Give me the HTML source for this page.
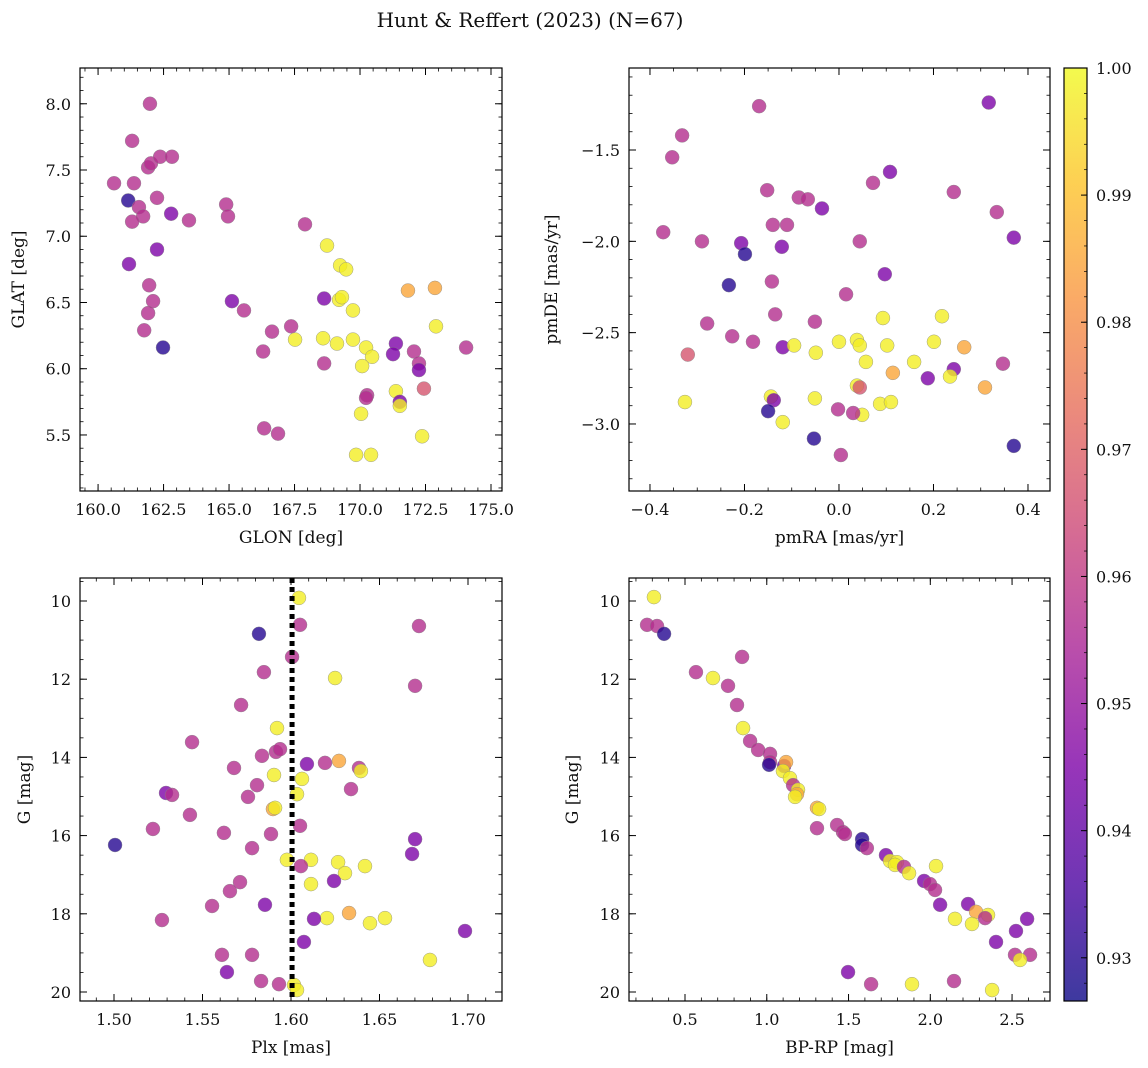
<!DOCTYPE html>
<html><head><meta charset="utf-8">
<style>
html,body{margin:0;padding:0;background:#fff;}
svg{display:block;font-family:"DejaVu Serif","Liberation Serif",serif;}
</style></head>
<body>
<svg id="fig" width="1148" height="1068" viewBox="0 0 1148 1068" xmlns="http://www.w3.org/2000/svg">
<text x="530" y="27" text-anchor="middle" font-size="20" fill="#111">Hunt &amp; Reffert (2023) (N=67)</text>
</svg>
<script>
// ---------- data ----------
const p1Glon=[160.61,161.30,161.98,161.15,161.37,161.56,161.91,162.02,162.37,162.82,162.25,161.72,161.30,162.79,163.47,162.25,161.18,161.95,162.10,161.91,161.76,162.48,164.89,164.96,165.11,165.57,166.64,166.30,166.34,166.87,167.37,167.52,167.90,168.74,169.24,169.47,168.63,169.20,169.31,169.73,168.59,169.12,169.73,168.63,170.23,170.46,170.08,170.27,170.23,170.04,169.85,170.42,171.83,172.86,172.90,171.37,171.26,172.06,172.25,172.25,172.44,171.37,171.52,171.52,172.37,174.05];
const p1Glat=[7.40,7.72,8.00,7.27,7.40,7.22,7.52,7.55,7.60,7.60,7.29,7.15,7.11,7.17,7.12,6.90,6.79,6.63,6.51,6.42,6.29,6.16,7.24,7.15,6.51,6.44,6.28,6.13,5.55,5.51,6.32,6.22,7.09,6.93,6.78,6.75,6.53,6.52,6.54,6.44,6.23,6.19,6.22,6.04,6.16,6.09,6.02,5.80,5.78,5.66,5.35,5.35,6.59,6.61,6.32,6.19,6.11,6.13,6.04,5.99,5.85,5.83,5.75,5.72,5.49,6.16];
const p1Prob=[.957,.957,.957,.930,.957,.957,.957,.957,.957,.957,.957,.957,.957,.945,.957,.945,.945,.957,.957,.957,.957,.930,.957,.957,.945,.957,.957,.957,.957,.957,.957,.998,.957,.998,.998,.998,.945,.998,.998,.998,.998,.998,.998,.957,.998,.998,.998,.957,.957,.998,.998,.998,.985,.985,.998,.945,.945,.957,.957,.945,.967,.998,.945,.998,.998,.957];

const p2PmRA=[-0.169,0.317,-0.332,-0.353,-0.372,-0.290,-0.152,-0.085,-0.066,-0.036,0.108,0.072,0.243,0.334,0.370,-0.207,-0.199,-0.140,-0.110,-0.121,0.044,-0.233,-0.142,0.097,0.015,-0.135,-0.279,-0.226,-0.182,-0.119,-0.095,-0.051,-0.049,0.000,0.038,0.044,0.093,0.102,0.218,0.201,0.159,0.057,0.265,0.347,0.188,0.243,0.235,0.114,0.309,-0.320,-0.326,-0.144,-0.138,-0.150,-0.119,-0.051,0.038,0.044,0.049,0.030,-0.002,0.087,0.110,-0.053,0.004,0.370];
const p2PmDE=[-1.26,-1.24,-1.42,-1.54,-1.95,-2.00,-1.72,-1.76,-1.77,-1.82,-1.62,-1.68,-1.73,-1.84,-1.98,-2.01,-2.07,-1.91,-1.91,-2.03,-2.00,-2.24,-2.22,-2.18,-2.29,-2.40,-2.45,-2.52,-2.55,-2.58,-2.57,-2.44,-2.61,-2.55,-2.54,-2.57,-2.42,-2.57,-2.41,-2.55,-2.66,-2.66,-2.58,-2.67,-2.75,-2.70,-2.74,-2.72,-2.80,-2.62,-2.88,-2.85,-2.87,-2.93,-2.99,-2.86,-2.79,-2.80,-2.95,-2.94,-2.92,-2.89,-2.88,-3.08,-3.17,-3.12];
const p2Prob=[.957,.945,.957,.957,.957,.957,.957,.957,.957,.945,.945,.957,.957,.957,.945,.945,.930,.957,.957,.945,.957,.930,.957,.945,.957,.957,.957,.957,.957,.945,.998,.957,.998,.998,.998,.998,.998,.998,.998,.998,.998,.998,.985,.957,.945,.945,.998,.985,.985,.967,.998,.998,.945,.930,.998,.998,.998,.967,.998,.957,.957,.998,.998,.930,.957,.930];

const p3Plx=[1.6045,1.6051,1.6723,1.5819,1.6006,1.5847,1.6249,1.6701,1.5718,1.5921,1.5441,1.5836,1.5915,1.5938,1.5678,1.6090,1.6192,1.6271,1.6384,1.6395,1.5904,1.6062,1.5294,1.5328,1.5808,1.5757,1.6034,1.6339,1.5429,1.5898,1.5910,1.6051,1.5220,1.5621,1.5887,1.6701,1.5006,1.5780,1.6684,1.5977,1.6113,1.6266,1.6056,1.6418,1.6305,1.6243,1.6113,1.5712,1.5655,1.5554,1.5853,1.6328,1.6531,1.6203,1.6130,1.5271,1.6446,1.6983,1.6073,1.5610,1.5780,1.6785,1.5638,1.5831,1.5932,1.6017,1.6034];
const p3G=[9.92,10.61,10.64,10.84,11.43,11.82,11.97,12.17,12.66,13.25,13.61,13.96,13.86,13.79,14.27,14.17,14.14,14.09,14.27,14.35,14.45,14.55,14.91,14.96,14.71,15.01,14.94,14.81,15.47,15.32,15.29,15.75,15.83,15.93,15.96,16.09,16.24,16.32,16.47,16.62,16.62,16.68,16.78,16.78,16.96,17.16,17.24,17.19,17.42,17.80,17.77,17.98,18.11,18.11,18.13,18.16,18.24,18.44,18.72,19.05,19.05,19.18,19.49,19.72,19.80,19.82,19.95];
const p3Prob=[.998,.957,.957,.930,.957,.957,.998,.957,.957,.998,.957,.957,.957,.957,.957,.945,.957,.985,.957,.998,.998,.998,.945,.957,.957,.957,.998,.957,.957,.985,.998,.957,.957,.957,.957,.945,.930,.957,.945,.998,.998,.998,.957,.998,.998,.945,.998,.957,.957,.957,.945,.985,.998,.998,.945,.957,.998,.945,.945,.957,.957,.998,.945,.957,.957,.998,.998];
const p3ParallaxLine=1.6006;

const p4BpRp=[0.310,0.268,0.329,0.372,0.567,0.849,0.671,0.763,0.818,0.855,0.898,0.947,1.020,1.020,1.014,1.106,1.118,1.099,1.142,1.161,1.191,1.185,1.173,1.307,1.320,1.430,1.466,1.478,1.307,1.583,1.583,1.612,1.729,1.754,1.796,1.784,1.839,1.870,1.962,1.998,2.029,2.035,2.060,2.231,2.280,2.353,2.335,2.151,2.255,2.592,2.524,2.402,2.518,2.610,2.549,1.497,1.638,1.888,2.145,2.378];
const p4G=[9.90,10.61,10.64,10.84,11.82,11.43,11.97,12.17,12.66,13.25,13.58,13.81,13.91,14.12,14.19,14.22,14.12,14.35,14.53,14.71,14.83,14.94,15.01,15.29,15.32,15.73,15.91,15.96,15.81,16.09,16.24,16.32,16.50,16.65,16.68,16.75,16.80,16.96,17.16,17.24,17.39,16.78,17.77,17.75,17.95,18.03,18.11,18.13,18.26,18.13,18.44,18.72,19.05,19.05,19.18,19.49,19.80,19.80,19.72,19.95];
const p4Prob=[.998,.957,.957,.930,.957,.957,.998,.957,.957,.998,.957,.957,.957,.957,.930,.945,.985,.998,.998,.957,.998,.985,.998,.985,.998,.957,.957,.957,.957,.930,.930,.957,.945,.998,.998,.998,.957,.998,.945,.957,.957,.998,.945,.945,.985,.998,.957,.998,.998,.945,.945,.945,.957,.957,.998,.945,.957,.998,.957,.998];

const cbTicks=[0.93,0.94,0.95,0.96,0.97,0.98,0.99,1.00];
const cbMin=0.9266, cbMax=1.0;

// ---------- helpers ----------
const NS="http://www.w3.org/2000/svg";
const svg=document.getElementById('fig');
function mk(tag,attrs,parent){const e=document.createElementNS(NS,tag);for(const k in attrs)e.setAttribute(k,attrs[k]);(parent||svg).appendChild(e);return e;}
const plasmaStops=[[0,[13,8,135]],[0.125,[75,3,161]],[0.25,[125,3,168]],[0.375,[168,34,150]],[0.5,[203,70,121]],[0.625,[229,107,93]],[0.75,[248,148,65]],[0.875,[253,195,40]],[1,[240,249,33]]];
function plasma(t){t=Math.max(0,Math.min(1,t));for(let i=1;i<plasmaStops.length;i++){if(t<=plasmaStops[i][0]){const a=plasmaStops[i-1],b=plasmaStops[i];const f=(t-a[0])/(b[0]-a[0]);const c=a[1].map((v,j)=>Math.round(v+(b[1][j]-v)*f));return `rgb(${c[0]},${c[1]},${c[2]})`;}}return 'rgb(240,249,33)';}
function colorOf(p){return plasma((p-cbMin)/(cbMax-cbMin));}
function fmt(v,d){return (v<0?'\u2212':'')+Math.abs(v).toFixed(d);}

function panel(o){
  const g=mk('g',{});
  
  
  const L=o.box[0],T=o.box[1],R=o.box[2],B=o.box[3];
  const sx=v=>L+(v-o.xr[0])/(o.xr[1]-o.xr[0])*(R-L);
  const sy=o.yinv?(v=>T+(v-o.yr[0])/(o.yr[1]-o.yr[0])*(B-T)):(v=>B-(v-o.yr[0])/(o.yr[1]-o.yr[0])*(B-T));
  const pg=mk('g',{},g);
  
  
  for(let i=0;i<o.xs.length;i++){
    const c=mk('circle',{cx:sx(o.xs[i]),cy:sy(o.ys[i]),r:7,fill:colorOf(o.cs[i]),'fill-opacity':0.8,stroke:'#888','stroke-opacity':0.8,'stroke-width':0.5},pg);
    
    
  }
  if(o.vline!==undefined){
    const ln=mk('line',{x1:sx(o.vline),x2:sx(o.vline),y1:T,y2:B,stroke:'#000','stroke-width':5,'stroke-dasharray':'5,4'},g);
    
    
  }
  const fr=mk('rect',{x:L,y:T,width:R-L,height:B-T,fill:'none',stroke:'#000','stroke-width':1.2},g);
  
  
  const xm=o.xt[2]/o.xmin;
  for(let v=o.xt[0];v<=o.xt[1]+1e-9;v+=o.xt[2]){
    const x=sx(v);
    mk('line',{x1:x,x2:x,y1:B,y2:B-7,stroke:'#000','stroke-width':1},g);
    mk('line',{x1:x,x2:x,y1:T,y2:T+7,stroke:'#000','stroke-width':1},g);
    const t=mk('text',{x:x,y:B+24,'text-anchor':'middle','font-size':16,fill:'#111'},g);
    t.textContent=fmt(v,o.xd);
    
    
  }
  for(let v=o.xt[0]-Math.ceil((o.xt[0]-o.xr[0])/xm)*xm;v<=o.xr[1];v+=xm){
    if(v<o.xr[0])continue;const x=sx(v);
    mk('line',{x1:x,x2:x,y1:B,y2:B-3.5,stroke:'#000','stroke-width':0.8},g);
    mk('line',{x1:x,x2:x,y1:T,y2:T+3.5,stroke:'#000','stroke-width':0.8},g);
  }
  const ym=o.yt[2]/o.ymin;
  for(let v=o.yt[0];v<=o.yt[1]+1e-9;v+=o.yt[2]){
    const y=sy(v);
    mk('line',{x1:L,x2:L+7,y1:y,y2:y,stroke:'#000','stroke-width':1},g);
    mk('line',{x1:R,x2:R-7,y1:y,y2:y,stroke:'#000','stroke-width':1},g);
    const t=mk('text',{x:L-9,y:y+6,'text-anchor':'end','font-size':16,fill:'#111'},g);
    t.textContent=fmt(v,o.yd);
    
    
  }
  const y0=Math.min(o.yr[0],o.yr[1]),y1=Math.max(o.yr[0],o.yr[1]);
  for(let v=o.yt[0]-Math.ceil((o.yt[0]-y0)/ym)*ym;v<=y1;v+=ym){
    if(v<y0)continue;const y=sy(v);
    mk('line',{x1:L,x2:L+3.5,y1:y,y2:y,stroke:'#000','stroke-width':0.8},g);
    mk('line',{x1:R,x2:R-3.5,y1:y,y2:y,stroke:'#000','stroke-width':0.8},g);
  }
  const xl=mk('text',{x:(L+R)/2,y:B+52,'text-anchor':'middle','font-size':17,fill:'#111'},g);
  xl.textContent=o.xlabel;
  
  
  const yl=mk('text',{x:0,y:0,'text-anchor':'middle','font-size':17,fill:'#111',transform:`translate(${o.ylx},${(T+B)/2}) rotate(-90)`},g);
  yl.textContent=o.ylabel;
  
  
}

panel({name:'glon-glat-panel',box:[80,68,502,491],xr:[159.31,175.42],yr:[5.077,8.27],xs:p1Glon,ys:p1Glat,cs:p1Prob,xt:[160,175,2.5],xmin:5,xd:1,yt:[5.5,8.0,0.5],ymin:5,yd:1,xlabel:'GLON [deg]',ylabel:'GLAT [deg]',ylx:24});
panel({name:'proper-motion-panel',box:[629,68,1050,491],xr:[-0.4444,0.4466],yr:[-3.367,-1.051],xs:p2PmRA,ys:p2PmDE,cs:p2Prob,xt:[-0.4,0.4,0.2],xmin:4,xd:1,yt:[-3.0,-1.5,0.5],ymin:5,yd:1,xlabel:'pmRA [mas/yr]',ylabel:'pmDE [mas/yr]',ylx:557});
panel({name:'parallax-mag-panel',box:[80,578,502,1001],xr:[1.4808,1.7192],yr:[9.412,20.23],yinv:true,xs:p3Plx,ys:p3G,cs:p3Prob,vline:p3ParallaxLine,xt:[1.50,1.70,0.05],xmin:5,xd:2,yt:[10,20,2],ymin:4,yd:0,xlabel:'Plx [mas]',ylabel:'G [mag]',ylx:30});
panel({name:'cmd-panel',box:[629,578,1050,1001],xr:[0.1575,2.732],yr:[9.412,20.23],yinv:true,xs:p4BpRp,ys:p4G,cs:p4Prob,xt:[0.5,2.5,0.5],xmin:5,xd:1,yt:[10,20,2],ymin:4,yd:0,xlabel:'BP-RP [mag]',ylabel:'G [mag]',ylx:578});

// colorbar
const cb=mk('g',{});


const defs=mk('defs',{},cb);
const lg=mk('linearGradient',{id:'cbg',x1:0,y1:1,x2:0,y2:0},defs);
for(let i=0;i<=16;i++){mk('stop',{offset:i/16,'stop-color':plasma(i/16),'stop-opacity':0.8},lg);}
const cbL=1064,cbT=68,cbR=1087,cbB=1001;
mk('rect',{x:cbL,y:cbT,width:cbR-cbL,height:cbB-cbT,fill:'url(#cbg)',stroke:'#000','stroke-width':1.2},cb);
const cy=v=>cbB-(v-cbMin)/(cbMax-cbMin)*(cbB-cbT);
for(const v of cbTicks){
  const y=cy(v);
  mk('line',{x1:cbR,x2:cbR-6,y1:y,y2:y,stroke:'#000','stroke-width':1},cb);
  const t=mk('text',{x:cbR+9,y:y+6,'font-size':16,fill:'#111'},cb);
  t.textContent=v.toFixed(2);
  
  
}
for(let v=0.928;v<1.0;v+=0.002){const y=cy(v);mk('line',{x1:cbR,x2:cbR-3,y1:y,y2:y,stroke:'#000','stroke-width':0.7},cb);}
</script>
</body></html>
